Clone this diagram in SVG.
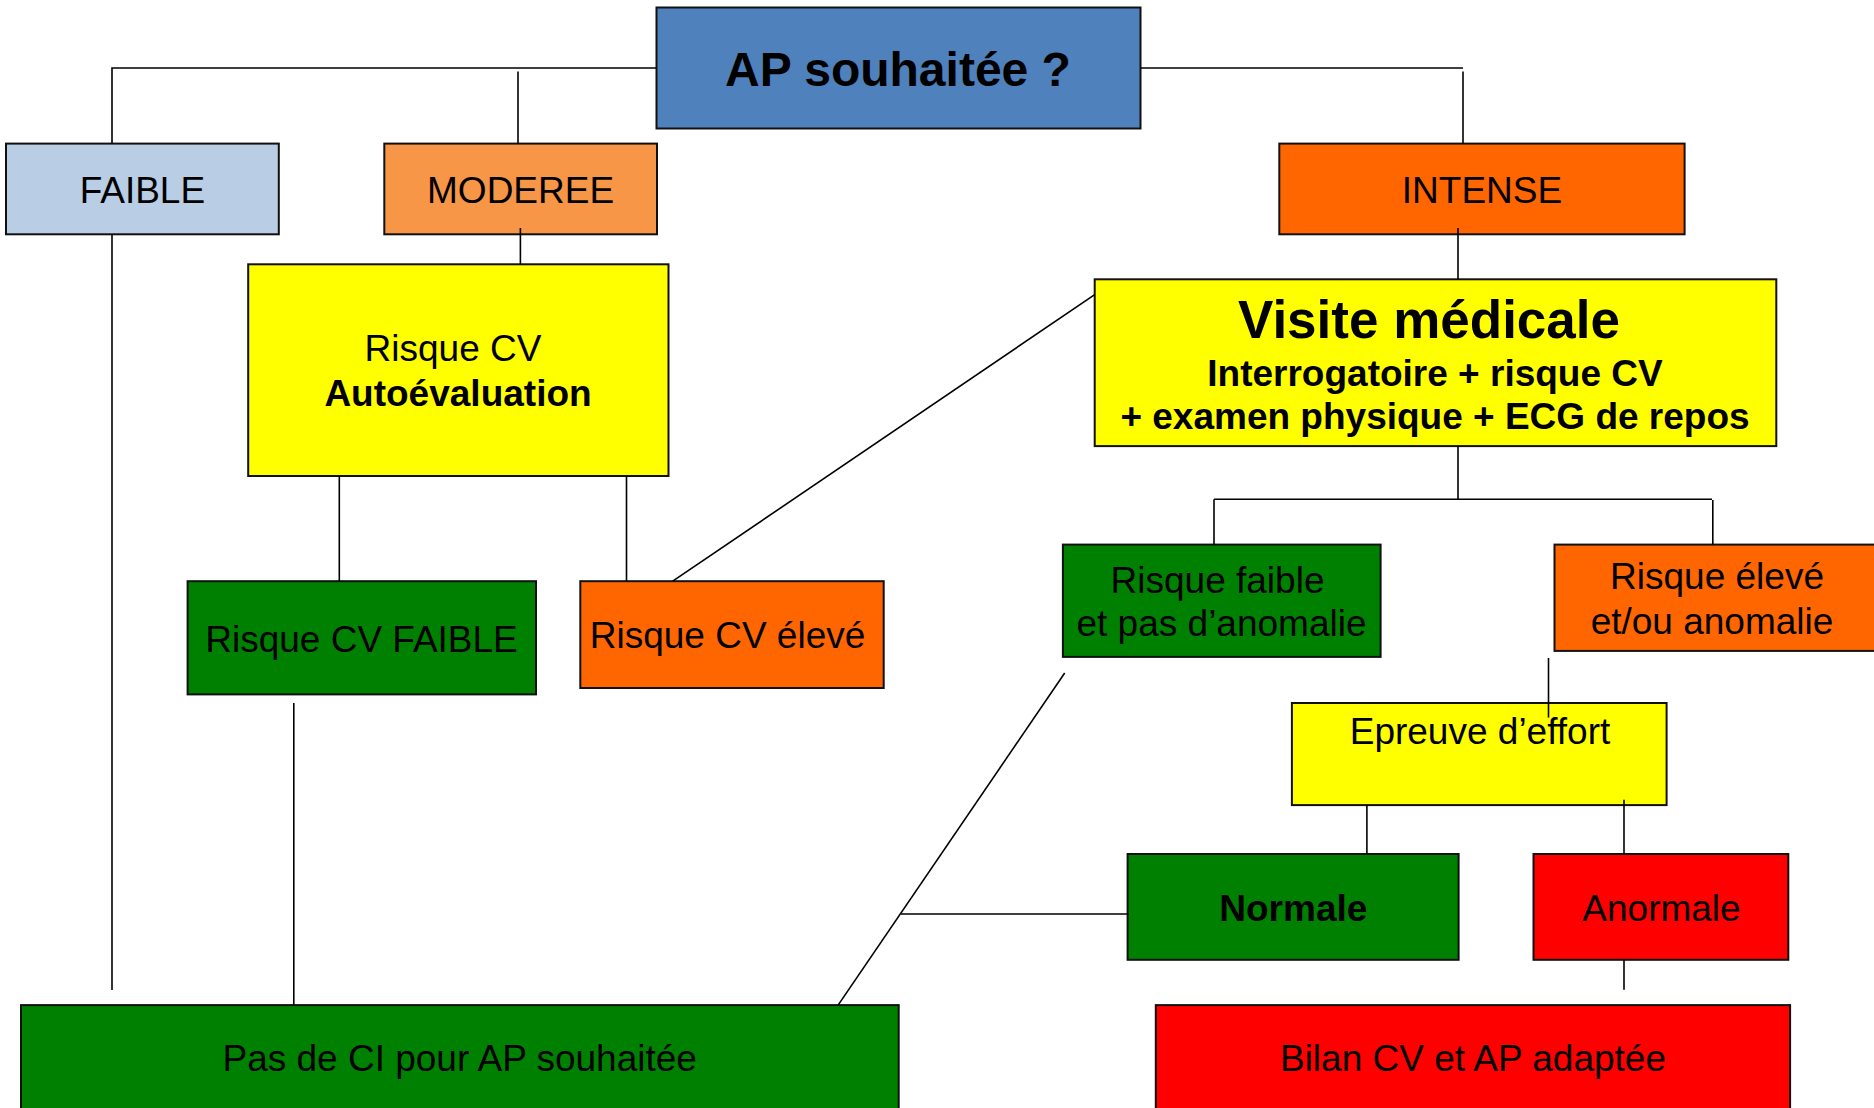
<svg xmlns="http://www.w3.org/2000/svg" width="1874" height="1108" viewBox="0 0 1874 1108">
<style>
.box{stroke:#111;stroke-width:2}
.t{font-family:"Liberation Sans",Arial,sans-serif;font-size:37px;fill:#000;text-anchor:middle}
.b{font-weight:bold}
.c{stroke:#000;stroke-width:1.6;fill:none}
</style>
<rect width="1874" height="1108" fill="#fff"/>
<g id="n-ap"><rect class="box" x="656.5" y="7.5" width="484" height="121" fill="#4F81BD"/><text class="t b" x="898" y="85.5" style="font-size:48px">AP souhaitée ?</text></g>
<g id="n-faible"><rect class="box" x="6" y="143.6" width="272.8" height="90.7" fill="#B9CDE5"/><text class="t" x="142.4" y="202.5">FAIBLE</text></g>
<g id="n-moderee"><rect class="box" x="384.3" y="143.6" width="272.7" height="90.7" fill="#F79646"/><text class="t" x="520.6" y="202.5">MODEREE</text></g>
<g id="n-intense"><rect class="box" x="1279.3" y="143.6" width="405.3" height="90.7" fill="#FF6600"/><text class="t" x="1482" y="202.5">INTENSE</text></g>
<g id="n-risquecv"><rect class="box" x="248.2" y="264.3" width="420.3" height="211.7" fill="#FFFF00"/><text class="t" x="453" y="361.4">Risque CV</text><text class="t b" x="458" y="406.4">Autoévaluation</text></g>
<g id="n-visite"><rect class="box" x="1094.7" y="279.3" width="681.6" height="166.8" fill="#FFFF00"/><text class="t b" x="1429" y="337.5" style="font-size:53px">Visite médicale</text><text class="t b" x="1435" y="385.7">Interrogatoire + risque CV</text><text class="t b" x="1435" y="428.6">+ examen physique + ECG de repos</text></g>
<g id="n-cvfaible"><rect class="box" x="187.6" y="581.2" width="348.4" height="113.2" fill="#008000"/><text class="t" x="361.5" y="651.6">Risque CV FAIBLE</text></g>
<g id="n-cveleve"><rect class="box" x="580.3" y="581.2" width="303.4" height="106.8" fill="#FF6600"/><text class="t" x="727.5" y="648">Risque CV élevé</text></g>
<g id="n-rfaible"><rect class="box" x="1062.9" y="544.6" width="317.7" height="112.3" fill="#008000"/><text class="t" x="1217.5" y="592.6">Risque faible</text><text class="t" x="1221.5" y="635.5">et pas d’anomalie</text></g>
<g id="n-releve"><rect class="box" x="1554.5" y="544.6" width="325" height="106.3" fill="#FF6600"/><text class="t" x="1717" y="589">Risque élevé</text><text class="t" x="1712" y="633.7">et/ou anomalie</text></g>
<g id="n-epreuve"><rect class="box" x="1291.9" y="703" width="374.7" height="102.1" fill="#FFFF00"/><text class="t" x="1480" y="744.4">Epreuve d’effort</text></g>
<g id="n-normale"><rect class="box" x="1127.6" y="854" width="331" height="105.8" fill="#008000"/><text class="t b" x="1293.3" y="920.5">Normale</text></g>
<g id="n-anormale"><rect class="box" x="1533.5" y="854" width="254.8" height="105.8" fill="#FF0000"/><text class="t" x="1661.5" y="920.5">Anormale</text></g>
<g id="n-pasci"><rect class="box" x="21" y="1005.1" width="877.7" height="110" fill="#008000"/><text class="t" x="459.7" y="1071.2">Pas de CI pour AP souhaitée</text></g>
<g id="n-bilan"><rect class="box" x="1155.8" y="1005.1" width="634.3" height="110" fill="#FF0000"/><text class="t" x="1473" y="1071.2">Bilan CV et AP adaptée</text></g>
<g id="connectors" class="c">
<polyline class="c" points="656.5,68 112,68 112,143.6"/>
<line class="c" x1="518" y1="71.4" x2="518" y2="143.6"/>
<polyline class="c" points="1140.5,68 1463,68"/>
<line class="c" x1="1463" y1="71.4" x2="1463" y2="143.6"/>
<line class="c" x1="520.4" y1="228" x2="520.4" y2="264.3"/>
<line class="c" x1="112" y1="234.3" x2="112" y2="990"/>
<line class="c" x1="339.3" y1="476" x2="339.3" y2="581.2"/>
<line class="c" x1="626.5" y1="476" x2="626.5" y2="581.2"/>
<line class="c" x1="1094.7" y1="294.6" x2="672.7" y2="581.2"/>
<line class="c" x1="1458" y1="228" x2="1458" y2="279.3"/>
<line class="c" x1="1458" y1="446" x2="1458" y2="499.3"/>
<line class="c" x1="1214" y1="499.3" x2="1712" y2="499.3"/>
<line class="c" x1="1214" y1="499.3" x2="1214" y2="544.6"/>
<line class="c" x1="1712.8" y1="500" x2="1712.8" y2="544.6"/>
<line class="c" x1="293.8" y1="703" x2="293.8" y2="1005.1"/>
<line class="c" x1="1064.7" y1="673" x2="838.1" y2="1005.1"/>
<line class="c" x1="901" y1="914" x2="1128.8" y2="914"/>
<line class="c" x1="1548.5" y1="658" x2="1548.5" y2="717.6"/>
<line class="c" x1="1366.9" y1="805" x2="1366.9" y2="854"/>
<line class="c" x1="1624" y1="799.8" x2="1624" y2="854"/>
<line class="c" x1="1624" y1="959.8" x2="1624" y2="989.8"/>
</g>
</svg>
